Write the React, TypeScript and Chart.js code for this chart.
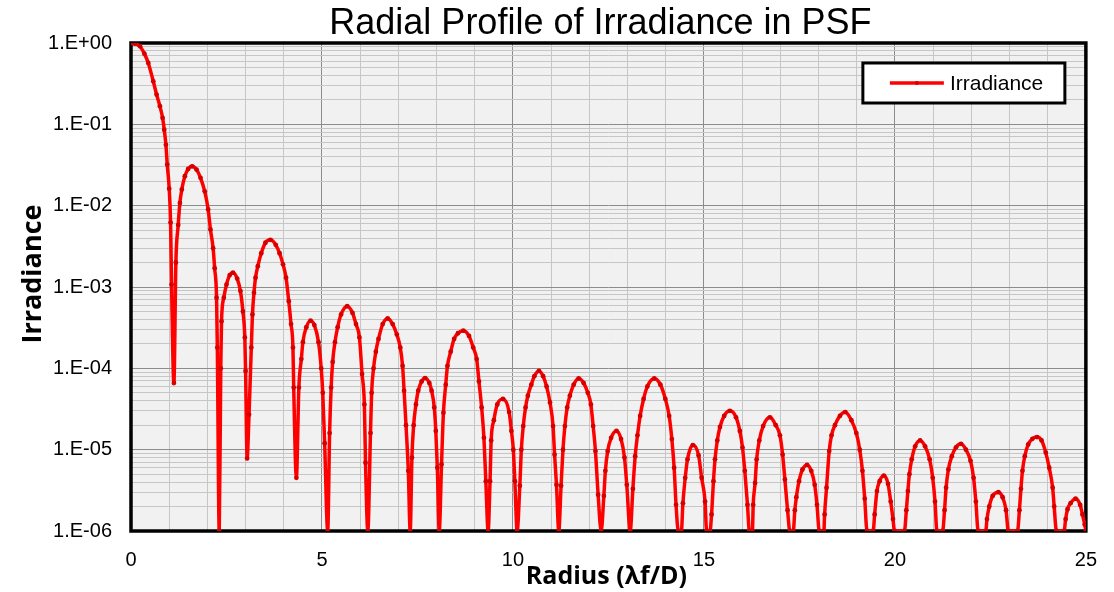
import React, { useEffect, useRef } from "react";
import { Chart, registerables } from "chart.js";

Chart.register(...registerables);

const TITLE = "Radial Profile of Irradiance in PSF";
const X_TITLE = "Radius (\u03bbf/D)";
const Y_TITLE = "Irradiance";
const SERIES_LABEL = "Irradiance";

const RADIUS = [
  0, 0.1, 0.235, 0.35, 0.452, 0.583, 0.67, 0.757, 0.827, 0.87, 0.914, 0.949, 1.0, 1.036, 1.062, 1.123,
  1.175, 1.236, 1.28, 1.33, 1.41, 1.497, 1.6, 1.715, 1.82, 1.93, 2.02, 2.08, 2.15, 2.19, 2.24, 2.26, 2.31,
  2.35, 2.37, 2.43, 2.5, 2.585, 2.67, 2.78, 2.865, 2.93, 2.98, 3.0, 3.04,
  3.09, 3.15, 3.18, 3.22, 3.26, 3.32, 3.41, 3.52, 3.65, 3.79, 3.89, 3.98, 4.06, 4.13, 4.19, 4.24, 4.26, 4.33,
  4.395, 4.46, 4.5, 4.59, 4.7, 4.8, 4.91, 4.98, 5.02, 5.07, 5.15,
  5.2, 5.24, 5.28, 5.34, 5.41, 5.5, 5.66, 5.8, 5.89, 5.98, 6.05, 6.11, 6.14, 6.2,
  6.27, 6.3, 6.35, 6.41, 6.48, 6.59, 6.72, 6.85, 6.96, 7.05, 7.11, 7.15, 7.2, 7.26, 7.31,
  7.355, 7.4, 7.46, 7.52, 7.61, 7.7, 7.81, 7.87, 7.94, 7.98, 8.02, 8.07,
  8.13, 8.18, 8.24, 8.285, 8.37, 8.46, 8.56, 8.7, 8.85, 8.96, 9.05, 9.11, 9.18, 9.24, 9.29, 9.35,
  9.4, 9.43, 9.5, 9.59, 9.74, 9.9, 9.96, 10.01, 10.05, 10.11,
  10.18, 10.22, 10.27, 10.33, 10.39, 10.48, 10.56, 10.68, 10.79, 10.88, 10.97, 11.05, 11.09, 11.14, 11.2,
  11.26, 11.31, 11.36, 11.42, 11.49, 11.59, 11.72, 11.85, 11.96, 12.04, 12.1, 12.16, 12.23, 12.31,
  12.38, 12.42, 12.48, 12.57, 12.71, 12.83, 12.92, 12.98, 13.07,
  13.14, 13.2, 13.26, 13.33, 13.42, 13.52, 13.7, 13.86, 13.99, 14.09, 14.16, 14.22, 14.27, 14.33, 14.41,
  14.45, 14.51, 14.57, 14.71, 14.86, 14.94, 15.03, 15.07, 15.16,
  15.2, 15.25, 15.29, 15.35, 15.42, 15.53, 15.68, 15.84, 15.94, 16.01, 16.07, 16.14, 16.19, 16.27,
  16.29, 16.34, 16.38, 16.45, 16.55, 16.73, 16.88, 16.99, 17.06, 17.12, 17.19, 17.25, 17.34,
  17.38, 17.42, 17.49, 17.58, 17.7, 17.81, 17.9, 17.96, 18.02, 18.14,
  18.16, 18.21, 18.28, 18.34, 18.43, 18.56, 18.7, 18.86, 18.99, 19.08, 19.15, 19.21, 19.27, 19.43,
  19.47, 19.53, 19.6, 19.71, 19.82, 19.89, 19.95, 19.99, 20.25,
  20.3, 20.34, 20.38, 20.44, 20.53, 20.66, 20.79, 20.91, 20.99, 21.05, 21.1, 21.25,
  21.3, 21.34, 21.4, 21.49, 21.6, 21.73, 21.86, 21.98, 22.06, 22.12, 22.18, 22.38,
  22.41, 22.47, 22.56, 22.71, 22.82, 22.91, 22.97, 23.21,
  23.26, 23.3, 23.34, 23.4, 23.49, 23.6, 23.72, 23.84, 23.95, 24.04, 24.13, 24.17, 24.23, 24.43,
  24.47, 24.52, 24.6, 24.73, 24.85, 24.91, 24.97, 25.0,
];

const IRRADIANCE = [
  1, 0.98, 0.91, 0.74, 0.568, 0.338, 0.232, 0.167, 0.12, 0.086, 0.056, 0.032, 0.0162, 0.0062, 0.00107, 6.6e-5,
  0.002, 0.0058, 0.0108, 0.0158, 0.023, 0.0283, 0.0305, 0.0278, 0.022, 0.015, 0.009, 0.0051, 0.003, 0.0017, 7.4e-4, 1.8e-4, 1e-6,
  1.0e-4, 3.8e-4, 7.4e-4, 0.00107, 0.0014, 0.0015, 0.00127, 8.9e-4, 5.0e-4, 2.4e-4, 9.3e-5, 7.8e-6,
  2.7e-5, 1.8e-4, 4.6e-4, 8.5e-4, 0.0013, 0.0018, 0.0026, 0.0035, 0.0038, 0.0033, 0.0026, 0.0019, 0.0013, 6.7e-4, 3.5e-4, 1.8e-4, 5.8e-5, 4.5e-6,
  5.8e-5, 1.3e-4, 2.1e-4, 3.2e-4, 3.85e-4, 3.4e-4, 2.1e-4, 1.0e-4, 5.0e-5, 1.2e-5, 1e-6,
  1.6e-5, 5.8e-5, 1.2e-4, 2.1e-4, 3.2e-4, 4.6e-4, 5.8e-4, 4.8e-4, 3.5e-4, 2.4e-4, 8.5e-5, 3.6e-5, 6.9e-6, 1e-6,
  1.6e-5, 5.0e-5, 1.0e-4, 1.6e-4, 2.3e-4, 3.5e-4, 4.1e-4, 3.5e-4, 2.6e-4, 1.8e-4, 1.07e-4, 5.3e-5, 2.0e-5, 5.5e-6, 1e-6,
  8e-6, 2.0e-5, 3.6e-5, 5.3e-5, 6.9e-5, 7.6e-5, 6.6e-5, 5.3e-5, 3.3e-5, 1.7e-5, 6e-6, 1e-6,
  6.6e-6, 2.85e-5, 6.3e-5, 1.07e-4, 1.6e-4, 2.3e-4, 2.7e-4, 2.9e-4, 2.5e-4, 1.8e-4, 1.3e-4, 6.9e-5, 3.3e-5, 1.4e-5, 4.1e-6, 1e-6,
  4.1e-6, 1.3e-5, 2.3e-5, 3.6e-5, 4.2e-5, 2.9e-5, 1.7e-5, 1.0e-5, 4.1e-6, 1e-6,
  3.6e-6, 1.0e-5, 1.95e-5, 3.3e-5, 4.6e-5, 6.3e-5, 8.0e-5, 9.3e-5, 8.0e-5, 6.0e-5, 3.8e-5, 1.95e-5, 8.7e-6, 3.7e-6, 1e-6,
  3.6e-6, 1.0e-5, 1.95e-5, 3.3e-5, 4.6e-5, 6.3e-5, 7.5e-5, 6.6e-5, 5.0e-5, 3.6e-5, 1.95e-5, 9.6e-6, 2.8e-6, 1e-6,
  2.7e-6, 5.5e-6, 9.6e-6, 1.4e-5, 1.7e-5, 1.35e-5, 8e-6, 3.7e-6, 1e-6,
  3.3e-6, 8.3e-6, 1.5e-5, 2.6e-5, 4.2e-5, 6.0e-5, 7.5e-5, 6.3e-5, 4.2e-5, 2.6e-5, 1.35e-5, 6e-6, 2.1e-6, 1e-6, 1e-6,
  2.2e-6, 4.5e-6, 7.6e-6, 1.14e-5, 8.5e-6, 4.5e-6, 2.3e-6, 1e-6, 1e-6,
  1.6e-6, 4.1e-6, 7.6e-6, 1.3e-5, 1.9e-5, 2.6e-5, 3.0e-5, 2.5e-5, 1.7e-5, 1.06e-5, 5.5e-6, 2.1e-6, 1e-6, 1e-6,
  2.1e-6, 3.9e-6, 7.6e-6, 1.3e-5, 1.95e-5, 2.5e-5, 2.0e-5, 1.5e-5, 8.7e-6, 4.3e-6, 1.8e-6, 1e-6, 1e-6,
  1.8e-6, 2.6e-6, 4.1e-6, 5.7e-6, 6.5e-6, 5.5e-6, 3.7e-6, 2.1e-6, 1e-6, 1e-6,
  1.6e-6, 3.4e-6, 9.6e-6, 1.5e-5, 2.0e-5, 2.6e-5, 2.9e-5, 2.3e-5, 1.6e-5, 1.0e-5, 5.5e-6, 2.5e-6, 1e-6, 1e-6,
  1.6e-6, 3.1e-6, 4.1e-6, 4.8e-6, 3.8e-6, 2.3e-6, 1.4e-6, 1e-6, 1e-6,
  1.8e-6, 3.1e-6, 5e-6, 7.6e-6, 1.1e-5, 1.3e-5, 1.1e-5, 7.6e-6, 4.5e-6, 2.3e-6, 1e-6, 1e-6,
  1.8e-6, 3.4e-6, 5.7e-6, 8.3e-6, 1.07e-5, 1.18e-5, 1.0e-5, 7.3e-6, 4.5e-6, 2.3e-6, 1e-6, 1e-6,
  1.4e-6, 2.0e-6, 2.7e-6, 3.0e-6, 2.6e-6, 1.8e-6, 1e-6, 1e-6,
  1.8e-6, 3.3e-6, 5.5e-6, 8.3e-6, 1.16e-5, 1.36e-5, 1.43e-5, 1.3e-5, 9.2e-6, 6e-6, 3.4e-6, 2e-6, 1e-6, 1e-6,
  1.4e-6, 1.85e-6, 2.2e-6, 2.5e-6, 2.1e-6, 1.6e-6, 1.2e-6, 1e-6,
];

const X_GRID = [0, 1, 2, 3, 4, 5, 6, 7, 8, 9, 10, 11, 12, 13, 14, 15, 16, 17, 18, 19, 20, 21, 22, 23, 24, 25];
const X_TICK_LABELS = [0, 5, 10, 15, 20, 25];
const Y_DECADES = [1e-6, 1e-5, 1e-4, 1e-3, 1e-2, 1e-1, 1];
const Y_TICK_LABELS = ["1.E-06", "1.E-05", "1.E-04", "1.E-03", "1.E-02", "1.E-01", "1.E+00"];
const Y_SUBDIVISIONS = [1, 2, 3, 4, 5, 6, 7, 8, 9];

const isDecade = (v: number) => {
  const l = Math.log10(v);
  return Math.abs(l - Math.round(l)) < 1e-6;
};

const decoratePlugin = {
  id: "decorate",
  beforeDraw(chart: any) {
    const { ctx, chartArea: a } = chart;
    ctx.save();
    ctx.fillStyle = "#f1f1f1";
    ctx.fillRect(a.left, a.top, a.right - a.left, a.bottom - a.top);
    ctx.restore();
  },
  beforeDatasetsDraw(chart: any) {
    const { ctx, chartArea: a } = chart;
    ctx.save();
    ctx.strokeStyle = "#000";
    ctx.lineWidth = 3.5;
    ctx.strokeRect(a.left, a.top, a.right - a.left, a.bottom - a.top);
    ctx.restore();
  },
  afterDraw(chart: any) {
    const { ctx, chartArea: a } = chart;
    ctx.save();
    ctx.fillStyle = "#000";
    ctx.font = '36px "Liberation Sans", Arial, sans-serif';
    ctx.textAlign = "center";
    ctx.textBaseline = "alphabetic";
    ctx.fillText(TITLE, a.left + (a.right - a.left) / 2 - 8, a.top - 9.5);
    ctx.font = 'bold 25px "Open Sans", sans-serif';
    ctx.fillText(X_TITLE, a.left + (a.right - a.left) / 2 - 2, a.bottom + 53);
    ctx.save();
    ctx.translate(41, a.top + (a.bottom - a.top) / 2 - 13);
    ctx.rotate(-Math.PI / 2);
    ctx.font = 'bold 27px "Open Sans", sans-serif';
    ctx.fillText(Y_TITLE, 0, 0);
    ctx.restore();
    const ds = chart.data.datasets[0];
    const bx = a.right - 223;
    const by = a.top + 20;
    const bw = 202;
    const bh = 40;
    ctx.fillStyle = "#fff";
    ctx.fillRect(bx, by, bw, bh);
    ctx.strokeStyle = "#000";
    ctx.lineWidth = 3;
    ctx.strokeRect(bx, by, bw, bh);
    const ly = by + bh / 2;
    ctx.strokeStyle = ds.borderColor;
    ctx.lineWidth = 3.5;
    ctx.beginPath();
    ctx.moveTo(bx + 27, ly);
    ctx.lineTo(bx + 81, ly);
    ctx.stroke();
    ctx.fillStyle = ds.pointBackgroundColor;
    ctx.beginPath();
    ctx.arc(bx + 54, ly, 2, 0, Math.PI * 2);
    ctx.fill();
    ctx.fillStyle = "#000";
    ctx.font = '21px "Liberation Sans", Arial, sans-serif';
    ctx.textAlign = "left";
    ctx.textBaseline = "middle";
    ctx.fillText(SERIES_LABEL, bx + 87, ly + 1);
    ctx.restore();
  },
};

export default function App() {
  const canvasRef = useRef<HTMLCanvasElement | null>(null);

  useEffect(() => {
    if (!canvasRef.current) return;
    const points = RADIUS.map((r, i) => ({ x: r, y: IRRADIANCE[i] }));
    const yGrid: number[] = [];
    Y_DECADES.forEach((d, i) => {
      if (i === Y_DECADES.length - 1) {
        yGrid.push(d);
      } else {
        Y_SUBDIVISIONS.forEach((s) => yGrid.push(s * d));
      }
    });

    const chart = new Chart(canvasRef.current, {
      type: "line",
      data: {
        datasets: [
          {
            label: SERIES_LABEL,
            data: points,
            borderColor: "#ff0000",
            borderWidth: 3.5,
            pointRadius: 2.4,
            pointHoverRadius: 2.4,
            pointBackgroundColor: "#d40000",
            pointBorderWidth: 0,
            cubicInterpolationMode: "monotone",
          } as any,
        ],
      },
      options: {
        animation: false,
        responsive: true,
        maintainAspectRatio: false,
        events: [],
        layout: { padding: { top: 43, right: 25, left: 0, bottom: 0 } },
        plugins: {
          legend: { display: false },
          title: { display: false },
          tooltip: { enabled: false },
        },
        scales: {
          x: {
            type: "linear",
            min: 0,
            max: 25,
            afterBuildTicks: (scale: any) => {
              scale.ticks = X_GRID.map((v) => ({ value: v }));
            },
            afterFit: (scale: any) => {
              scale.height = 61;
            },
            border: { display: false },
            grid: {
              drawTicks: false,
              color: (c: any) => (c.tick && c.tick.value % 5 === 0 ? "#8c8c8c" : "#c6c6c6"),
              lineWidth: 1,
            },
            ticks: {
              autoSkip: false,
              maxRotation: 0,
              padding: 17,
              color: "#000",
              font: { family: '"Liberation Sans", Arial, sans-serif', size: 20 },
              callback: (v: any) => (X_TICK_LABELS.includes(Number(v)) ? String(v) : ""),
            },
          },
          y: {
            type: "logarithmic",
            min: 1e-6,
            max: 1,
            afterBuildTicks: (scale: any) => {
              scale.ticks = yGrid.map((v) => ({ value: v }));
            },
            afterFit: (scale: any) => {
              scale.width = 131;
            },
            border: { display: false },
            grid: {
              drawTicks: false,
              color: (c: any) => (c.tick && isDecade(c.tick.value) ? "#8c8c8c" : "#c6c6c6"),
              lineWidth: 1,
            },
            ticks: {
              autoSkip: false,
              padding: 19,
              color: "#000",
              font: { family: '"Liberation Sans", Arial, sans-serif', size: 20 },
              callback: (v: any) => {
                const val = Number(v);
                const idx = Y_DECADES.findIndex((d) => Math.abs(Math.log10(d) - Math.log10(val)) < 1e-6);
                return idx >= 0 ? Y_TICK_LABELS[idx] : "";
              },
            },
          },
        },
      },
      plugins: [decoratePlugin],
    });
    return () => chart.destroy();
  }, []);

  return (
    <div style={{ position: "fixed", left: 0, top: 0, width: 1114, height: 592, background: "#fff" }}>
      <canvas ref={canvasRef} />
    </div>
  );
}
